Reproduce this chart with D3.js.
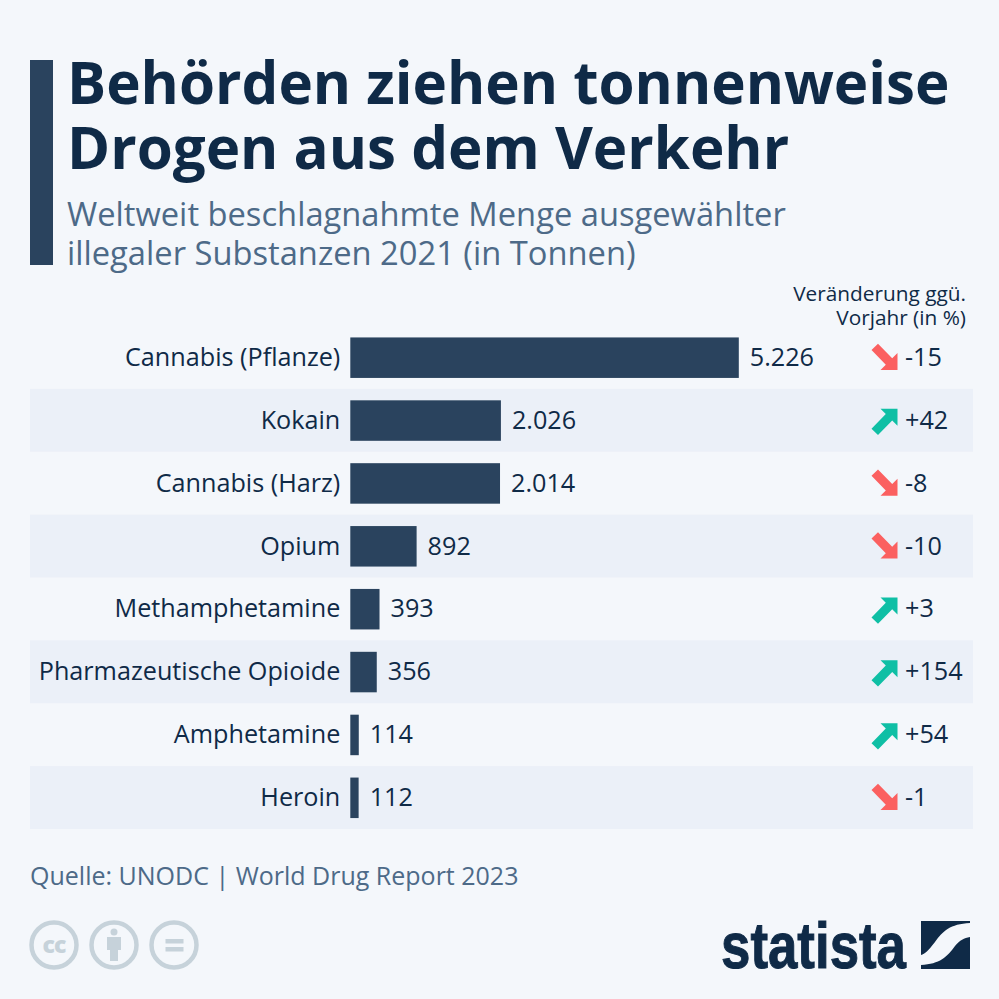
<!DOCTYPE html>
<html><head><meta charset="utf-8">
<script src="https://cdn.jsdelivr.net/npm/d3@7"></script>
<style>html,body{margin:0;padding:0;background:#f4f7fb}svg{display:block}text{font-family:"Open Sans",sans-serif}</style>
</head><body><svg id="c" width="999" height="999"></svg>
<script>
const categories=["Cannabis (Pflanze)","Kokain","Cannabis (Harz)","Opium","Methamphetamine","Pharmazeutische Opioide","Amphetamine","Heroin"];
const values=[5226,2026,2014,892,393,356,114,112];
const changes=[-15,42,-8,-10,3,154,54,-1];
const titleLines=["Behörden ziehen tonnenweise","Drogen aus dem Verkehr"];
const subtitleLines=["Weltweit beschlagnahmte Menge ausgewählter","illegaler Substanzen 2021 (in Tonnen)"];
const changeHeader=["Veränderung ggü.","Vorjahr (in %)"];
const source="Quelle: UNODC | World Drug Report 2023";
const fmt=v=>String(v).replace(/\B(?=(\d{3})+$)/g,".");
const dark="#0f2a47",bar="#2a435e",mid="#4d6a88",red="#fb6060",green="#0fbfa5",grey="#c6d2da";
const svg=d3.select("#c");
svg.append("rect").attr("width",999).attr("height",999).attr("fill","#f4f7fb");
svg.append("rect").attr("x",30).attr("y",60).attr("width",23).attr("height",205).attr("fill",bar);
svg.selectAll(".t").data(titleLines).join("text").attr("x",67).attr("y",(d,i)=>103.5+i*65)
 .attr("font-size",58.3).attr("font-weight",700).attr("fill",dark).text(d=>d);
svg.selectAll(".s").data(subtitleLines).join("text").attr("x",67).attr("y",(d,i)=>225.5+i*39)
 .attr("font-size",32.7).attr("fill",mid).text(d=>d);
svg.selectAll(".h").data(changeHeader).join("text").attr("x",966).attr("y",(d,i)=>301+i*24)
 .attr("text-anchor","end").attr("font-size",20.8).attr("fill",dark).text(d=>d);
const y=d3.scaleBand().domain(categories).range([326,829]);
const x=d3.scaleLinear().domain([0,5226]).range([350.3,738.8]);
const rows=svg.selectAll(".row").data(categories.map((c,i)=>({c,v:values[i],ch:changes[i],i}))).join("g");
rows.filter(d=>d.i%2==1).append("rect").attr("x",30).attr("width",943).attr("y",d=>y(d.c)).attr("height",y.bandwidth()).attr("fill","#ebf0f8");
rows.append("rect").attr("x",x(0)).attr("y",d=>y(d.c)+y.bandwidth()/2-20).attr("width",d=>x(d.v)-x(0)).attr("height",40.5).attr("fill",bar);
const cy=d=>y(d.c)+y.bandwidth()/2;
rows.append("text").attr("x",340.3).attr("y",d=>cy(d)+8.5).attr("text-anchor","end").attr("font-size",25.2).attr("fill",dark).text(d=>d.c);
rows.append("text").attr("x",d=>x(d.v)+11).attr("y",d=>cy(d)+8.5).attr("font-size",25.2).attr("fill",dark).text(d=>fmt(d.v));
rows.append("text").attr("x",905).attr("y",d=>cy(d)+8.5).attr("font-size",25.2).attr("fill",dark).text(d=>(d.ch>0?"+":"")+d.ch);
// arrow pointing up-right; mirrored vertically for decreases
const up="M-13,8 L1.3,-6.7 L-4,-12 L13,-12 L13,5 L7.7,-0.3 L-6.5,14.3 Z";
rows.append("path").attr("d",up).attr("fill",d=>d.ch>0?green:red)
 .attr("transform",d=>`translate(884.5,${cy(d)+0.5}) scale(1,${d.ch>0?1:-1})`);
svg.append("text").attr("x",30).attr("y",885).attr("font-size",25).attr("fill",mid).text(source);
// CC icons
const icons=svg.append("g").attr("fill","none").attr("stroke",grey).attr("stroke-width",4.5);
[54,114,174].forEach(cx=>icons.append("circle").attr("cx",cx).attr("cy",945).attr("r",22.5));
svg.append("text").attr("x",54).attr("y",953).attr("text-anchor","middle").attr("font-size",23).attr("font-weight",800).attr("letter-spacing",-1).attr("fill",grey).text("cc");
svg.append("circle").attr("cx",114).attr("cy",932).attr("r",3.5).attr("fill",grey);
svg.append("path").attr("fill",grey).attr("d","M107,937H121V950H118V961H110V950H107Z");
svg.append("rect").attr("x",165.5).attr("y",939).attr("width",18).attr("height",4.5).attr("fill",grey);
svg.append("rect").attr("x",165.5).attr("y",947).attr("width",18).attr("height",4.5).attr("fill",grey);
// logo
svg.append("text").attr("x",721).attr("y",968).style("font-family","'Liberation Sans'").attr("font-size",64).attr("font-weight",700).attr("fill",dark).attr("stroke",dark).attr("stroke-width",1)
 .attr("textLength",185).attr("lengthAdjust","spacingAndGlyphs").text("statista");
svg.append("path").attr("fill",dark).attr("d","M921,921H970V923C950,924 943,931 935,942C928,951 925,954 921,955Z");
svg.append("path").attr("fill",dark).attr("d","M970,937V969H921V965C940,964 947,957 955,946C960,940 964,938 970,937Z");
</script></body></html>
